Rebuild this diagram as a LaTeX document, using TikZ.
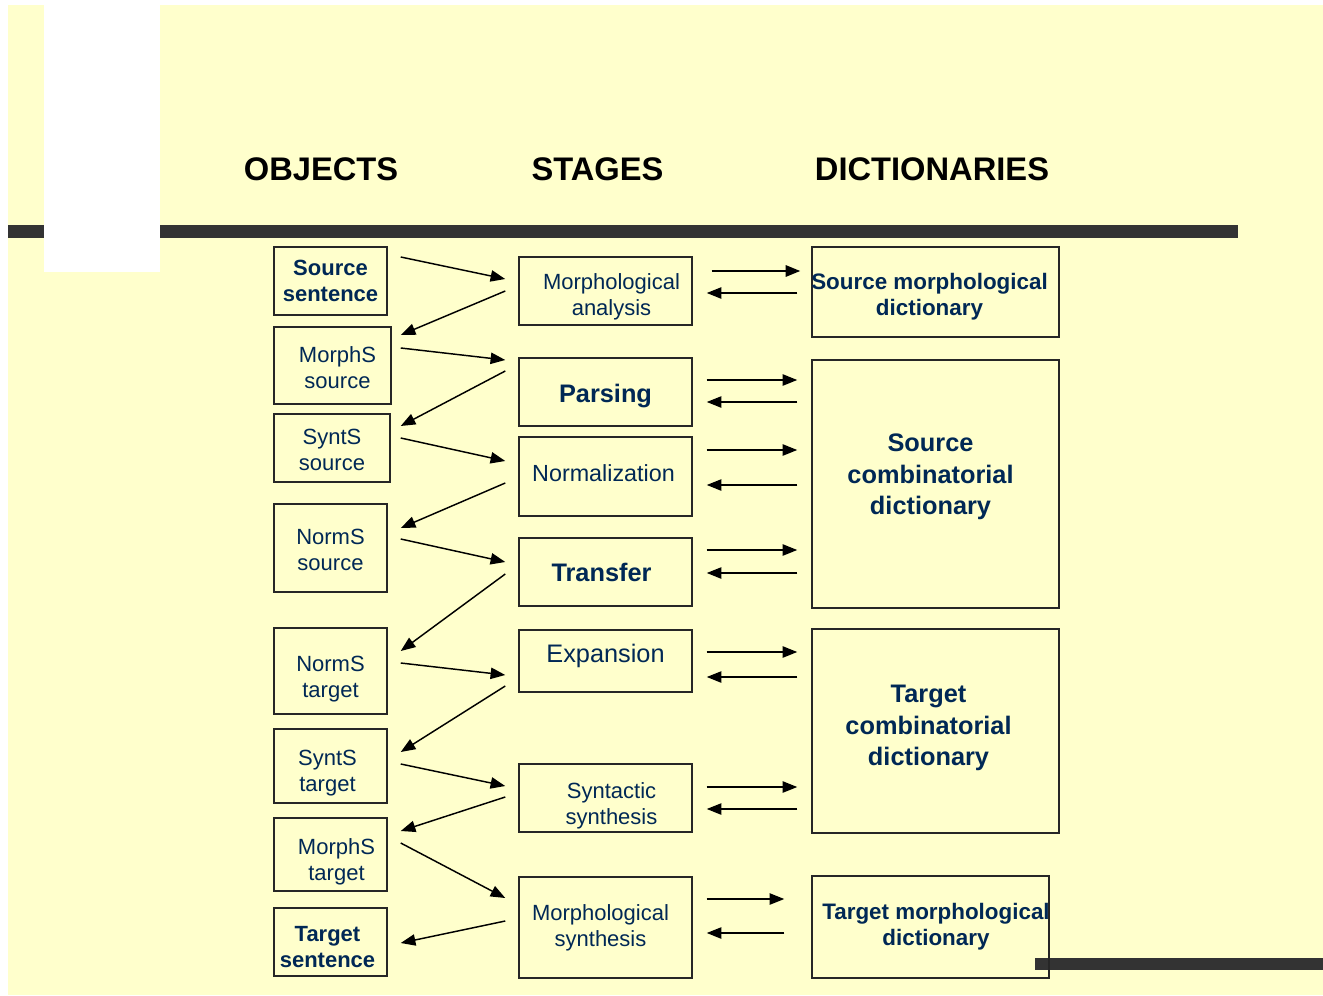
\documentclass[tikz,border=0pt]{standalone}
\usepackage{fontspec}
\setmainfont{Liberation Sans}
\usetikzlibrary{arrows.meta}
\definecolor{slide}{HTML}{FFFFCC}
\definecolor{navy}{RGB}{0,40,85}
\definecolor{bar}{HTML}{333333}

\begin{document}
\begin{tikzpicture}[x=0.75pt, y=-0.75pt,
	box/.style={draw=black!85, line width=1.1pt, inner sep=0pt},
	sz/.style 2 args={minimum width=#1*0.75pt, minimum height=#2*0.75pt},
	txt/.style={inner sep=0pt, align=center, text=navy, font=\fontsize{16.5}{19.5}\selectfont},
	bold/.style={txt, font=\bfseries\fontsize{16.5}{19.5}\selectfont},
	large/.style={txt, font=\fontsize{19}{23}\selectfont},
	largebold/.style={txt, font=\bfseries\fontsize{19}{23.5}\selectfont},
	dict/.style={txt, font=\bfseries\fontsize{16.8}{19.5}\selectfont},
	head/.style={font=\bfseries\fontsize{24.5}{29}\selectfont},
	>={Triangle[length=11pt,width=8.5pt]},
	flow/.style={->, line width=1.1pt},
	link/.style={flow, shorten <=10.5pt, shorten >=10.5pt}]
	\useasboundingbox (0,0) rectangle (1323,995);
	% slide background
	\fill[slide] (8,5) rectangle (1323,995);
	\fill[bar] (8,225) rectangle (1238,237.5);
	\fill[white] (44,0) rectangle (160,272);
	\fill[bar] (1035,958) rectangle (1323,969.5);

	\node[head] (hobj) at (321,169) {OBJECTS};
	\node[head] (hstg) at (597.5,169) {STAGES};
	\node[head] (hdic) at (932,169) {DICTIONARIES};

	% objects
	\node[box, sz={113}{68}] (ss) at (330.5,281) {};
	\node[box, sz={117}{77}] (mss) at (332.5,365.5) {};
	\node[box, sz={116}{68}] (sss) at (332,448) {};
	\node[box, sz={113}{88}] (nss) at (330.5,548) {};
	\node[box, sz={113}{86}] (nst) at (330.5,671) {};
	\node[box, sz={113}{74}] (sst) at (330.5,766) {};
	\node[box, sz={113}{73}] (mst) at (330.5,854.5) {};
	\node[box, sz={113}{68}] (ts) at (330.5,942) {};
	\node[bold] (ss-t) at (ss) {Source\\sentence};
	\node[txt] (mss-t) at ([shift={(5,2)}]mss) {MorphS\\source};
	\node[txt] (sss-t) at ([shift={(0,2)}]sss) {SyntS\\source};
	\node[txt] (nss-t) at ([shift={(0,2)}]nss) {NormS\\source};
	\node[txt] (nst-t) at ([shift={(0,8)}]nst) {NormS\\target};
	\node[txt] (sst-t) at ([shift={(-3,7)}]sst) {SyntS\\target};
	\node[txt] (mst-t) at ([shift={(6,7)}]mst) {MorphS\\target};
	\node[bold] (ts-t) at ([shift={(-3,5)}]ts) {Target\\sentence};

	% stages
	\node[box, sz={173}{68}] (ma) at (605.5,291) {};
	\node[box, sz={173}{68}] (pa) at (605.5,392) {};
	\node[box, sz={173}{79}] (no) at (605.5,476.5) {};
	\node[box, sz={173}{68}] (tr) at (605.5,572) {};
	\node[box, sz={173}{62}] (ex) at (605.5,661) {};
	\node[box, sz={173}{68}] (sy) at (605.5,798) {};
	\node[box, sz={173}{101}] (ms) at (605.5,927.5) {};
	\node[txt] (ma-t) at ([shift={(6,6)}]ma) {Morphological\\analysis};
	\node[largebold] (pa-t) at ([shift={(0,4)}]pa) {Parsing};
	\node[txt, font=\fontsize{17.5}{21}\selectfont] (no-t) at ([shift={(-2,-3)}]no) {Normalization};
	\node[largebold] (tr-t) at ([shift={(-4,0)}]tr) {Transfer};
	\node[large] (ex-t) at ([shift={(0,-5)}]ex) {Expansion};
	\node[txt] (sy-t) at ([shift={(6,8)}]sy) {Syntactic\\synthesis};
	\node[txt] (ms-t) at ([shift={(-5,0)}]ms) {Morphological\\synthesis};

	% dictionaries
	\node[box, sz={247}{90}] (smd) at (935.5,292) {};
	\node[box, sz={247}{248}] (scd) at (935.5,484) {};
	\node[box, sz={247}{204}] (tcd) at (935.5,731) {};
	\node[box, sz={237}{102}] (tmd) at (930.5,927) {};
	\node[dict] (smd-t) at ([shift={(-6,5)}]smd) {Source morphological\\dictionary};
	\node[largebold] (scd-t) at ([shift={(-5,-7)}]scd) {Source\\combinatorial\\dictionary};
	\node[largebold] (tcd-t) at ([shift={(-7,-3)}]tcd) {Target\\combinatorial\\dictionary};
	\node[dict] (tmd-t) at ([shift={(5.5,0)}]tmd) {Target morphological\\dictionary};

	% objects <-> stages
	\draw[flow] ([shift={(13,-24)}]ss.east) -- ([shift={(-13,-12)}]ma.west);
	\draw[flow] ([shift={(-13,0)}]ma.west) -- ([shift={(9,-30.5)}]mss.east);
	\draw[flow] ([shift={(9,-17.5)}]mss.east) -- ([shift={(-13,-32)}]pa.west);
	\draw[flow] ([shift={(-13,-21)}]pa.west) -- ([shift={(10,-22)}]sss.east);
	\draw[flow] ([shift={(10,-10)}]sss.east) -- ([shift={(-13,-15.5)}]no.west);
	\draw[flow] ([shift={(-13,6.5)}]no.west) -- ([shift={(13,-20)}]nss.east);
	\draw[flow] ([shift={(13,-9)}]nss.east) -- ([shift={(-13,-10)}]tr.west);
	\draw[flow] ([shift={(-13,2)}]tr.west) -- ([shift={(13,-20)}]nst.east);
	\draw[flow] ([shift={(13,-8)}]nst.east) -- ([shift={(-13,14)}]ex.west);
	\draw[flow] ([shift={(-13,25)}]ex.west) -- ([shift={(13,-14)}]sst.east);
	\draw[flow] ([shift={(13,-2)}]sst.east) -- ([shift={(-13,-12)}]sy.west);
	\draw[flow] ([shift={(-13,-1)}]sy.west) -- ([shift={(13,-23.5)}]mst.east);
	\draw[flow] ([shift={(13,-11.5)}]mst.east) -- ([shift={(-13,-29.5)}]ms.west);
	\draw[flow] ([shift={(-13,-6.5)}]ms.west) -- ([shift={(13,1)}]ts.east);

	% stages <-> dictionaries
	\draw[link, line width=1.6pt, shorten <=14.25pt, shorten >=8.25pt] ([shift={(0,-20)}]ma.east) -- ([shift={(0,-20)}]ma.east -| smd.west);
	\draw[link] ([shift={(0,2)}]ma.east -| smd.west) -- ([shift={(0,2)}]ma.east);
	\draw[link] ([shift={(0,-12)}]pa.east) -- ([shift={(0,-12)}]pa.east -| scd.west);
	\draw[link] ([shift={(0,10)}]pa.east -| scd.west) -- ([shift={(0,10)}]pa.east);
	\draw[link] ([shift={(0,-26.5)}]no.east) -- ([shift={(0,-26.5)}]no.east -| scd.west);
	\draw[link] ([shift={(0,8.5)}]no.east -| scd.west) -- ([shift={(0,8.5)}]no.east);
	\draw[link] ([shift={(0,-22)}]tr.east) -- ([shift={(0,-22)}]tr.east -| scd.west);
	\draw[link] ([shift={(0,1)}]tr.east -| scd.west) -- ([shift={(0,1)}]tr.east);
	\draw[link] ([shift={(0,-9)}]ex.east) -- ([shift={(0,-9)}]ex.east -| tcd.west);
	\draw[link] ([shift={(0,16)}]ex.east -| tcd.west) -- ([shift={(0,16)}]ex.east);
	\draw[link] ([shift={(0,-11)}]sy.east) -- ([shift={(0,-11)}]sy.east -| tcd.west);
	\draw[link] ([shift={(0,11)}]sy.east -| tcd.west) -- ([shift={(0,11)}]sy.east);
	\draw[link, shorten >=20.25pt] ([shift={(0,-28.5)}]ms.east) -- ([shift={(0,-28.5)}]ms.east -| tmd.west);
	\draw[link, shorten <=20.25pt] ([shift={(0,5.5)}]ms.east -| tmd.west) -- ([shift={(0,5.5)}]ms.east);
\end{tikzpicture}
\end{document}
